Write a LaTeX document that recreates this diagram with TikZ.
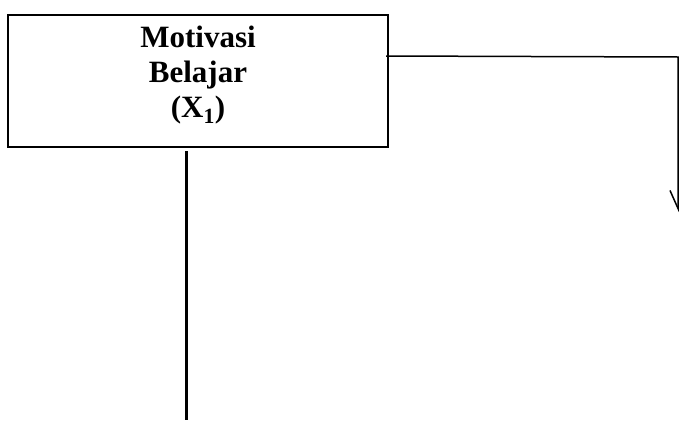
\documentclass[tikz,border=0pt]{standalone}
\usepackage{fontspec}
\setmainfont{Liberation Serif}
\usetikzlibrary{arrows.meta}
\tikzset{
  kotak/.style={draw, line width=2pt, minimum width=380pt, minimum height=132pt, inner sep=0pt},
  judul/.style={align=center, font=\bfseries\fontsize{31}{35}\selectfont},
}
\begin{document}
\begin{tikzpicture}[x=1pt,y=1pt]
\useasboundingbox (0,0) rectangle (681,-421);

\node[kotak] (motivasi) at (198,-81) {};
\node[judul] (teks) at (198,-75) {Motivasi\\Belajar\\(X\textsubscript{1})};

\coordinate (kanan) at (386,-56);
\coordinate (sudut) at (678,-57);
\coordinate (ujung) at (678,-212);
\draw[line width=1.5pt, -{Straight Barb[harpoon,swap,length=18pt,width=16pt,line width=1.5pt]}] (kanan) -- (sudut) -- (ujung);

\coordinate (atas) at (186,-151);
\coordinate (bawah) at (186,-420);
\draw[line width=3pt] (atas) -- (bawah);

\end{tikzpicture}
\end{document}
